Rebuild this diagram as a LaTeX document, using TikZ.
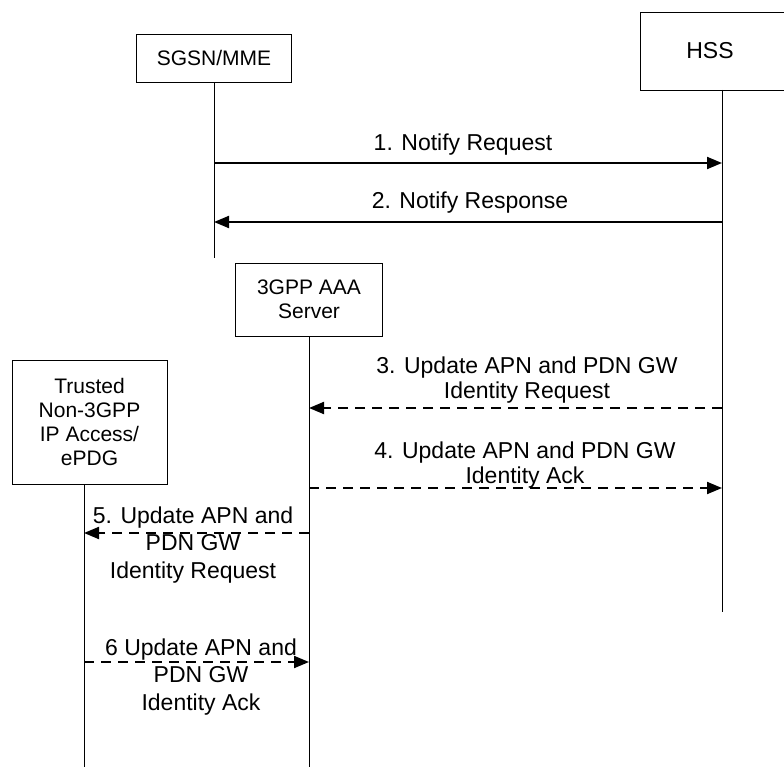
\documentclass[tikz,border=0pt]{standalone}
\usepackage{fontspec}
\setmainfont{Liberation Sans}
\usetikzlibrary{arrows.meta}
\tikzset{
  box/.style={draw, line width=0.9pt, align=center, inner sep=0pt, font=\fontsize{21}{24}\selectfont},
  life/.style={line width=1pt},
  msg/.style={line width=2pt, -{Triangle[length=15pt,width=12pt]}},
  dmsg/.style={msg, dash pattern=on 10pt off 7pt},
  lbl/.style={align=center, inner sep=0pt, font=\fontsize{23}{25}\selectfont},
  lblw/.style={align=center, inner sep=0pt, font=\fontsize{23}{27.5}\selectfont}
}
\begin{document}
\begin{tikzpicture}[x=1pt,y=-1pt]
\useasboundingbox (0,0) rectangle (784,767);
% participants
\node[box, minimum width=155, minimum height=48] (sgsn) at (214,58) {SGSN/MME};
\draw[line width=0.9pt] (640,12) rectangle (800,90);
\node[font=\fontsize{23}{25}\selectfont, inner sep=0pt] (hss) at (710,51) {HSS};
\node[box, minimum width=147, minimum height=73] (aaa) at (309,299.5) {3GPP AAA\\Server};
\node[box, minimum width=155, minimum height=124] (tn) at (89.5,422) {Trusted\\Non-3GPP\\IP Access/\\ePDG};
% lifeline ends
\coordinate (sgsnEnd) at (214,258);
\coordinate (hssTop) at (722,90);
\coordinate (hssEnd) at (722,612);
\coordinate (aaaEnd) at (309,767);
\coordinate (tnTop) at (84,484);
\coordinate (tnEnd) at (84,767);
\draw[life] (sgsn.south) -- (sgsnEnd);
\draw[life] (hssTop) -- (hssEnd);
\draw[life] (aaa.south) -- (aaaEnd);
\draw[life] (tnTop) -- (tnEnd);
% message points
\coordinate (s1) at (214,163); \coordinate (h1) at (722,163);
\coordinate (s2) at (214,222); \coordinate (h2) at (722,222);
\coordinate (a3) at (309,408); \coordinate (h3) at (722,408);
\coordinate (a4) at (309,488); \coordinate (h4) at (722,488);
\coordinate (a5) at (309,533); \coordinate (t5) at (84,533);
\coordinate (a6) at (309,662); \coordinate (t6) at (84,662);
\draw[msg] (s1) -- (h1);
\draw[msg] (h2) -- (s2);
\draw[dmsg] (h3) -- (a3);
\draw[dmsg] (a4) -- (h4);
\draw[dmsg] (a5) -- (t5);
\draw[dmsg] (t6) -- (a6);
% labels
\node[lbl] (l1) at (463,145) {1. Notify Request};
\node[lbl] (l2) at (470,203) {2. Notify Response};
\node[lbl] (l3) at (527,380) {3. Update APN and PDN GW\\Identity Request};
\node[lbl] (l4) at (525,465) {4. Update APN and PDN GW\\Identity Ack};
\node[lblw] (l5) at (193,545) {5. Update APN and\\PDN GW\\Identity Request};
\node[lblw] (l6) at (201,677) {6 Update APN and\\PDN GW\\Identity Ack};
\end{tikzpicture}
\end{document}
